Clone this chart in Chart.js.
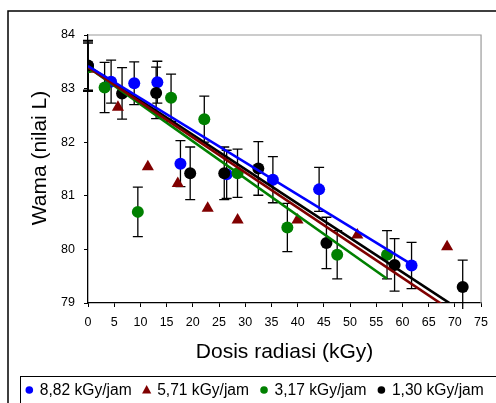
<!DOCTYPE html>
<html>
<head>
<meta charset="utf-8">
<script src="https://cdn.jsdelivr.net/npm/chart.js@4.4.1/dist/chart.umd.min.js"></script>
<style>
  html, body { margin: 0; padding: 0; background: #fff; }
</style>
</head>
<body>
<canvas id="c" width="496" height="403" style="display:block;width:496px;height:403px"></canvas>
<script>
const FONT = '"Liberation Sans", Arial, sans-serif';

const seriesLabels = ['8,82 kGy/jam', '5,71 kGy/jam', '3,17 kGy/jam', '1,30 kGy/jam'];
const seriesColors = ['#0000ff', '#800000', '#008000', '#000000'];
const seriesShapes = ['circle', 'triangle', 'circle', 'circle'];

// dosis (kGy) / nilai L / error
const doseBlue  = [0, 4.41, 8.82, 13.23, 17.64, 26.46, 35.28, 44.1, 61.74];
const lBlue     = [83.42, 83.13, 83.1, 83.12, 81.6, 81.4, 81.3, 81.12, 79.7];
const errBlue   = [0.45, 0.4, 0.4, 0.39, 0.43, 0.45, 0.43, 0.41, 0.43];

const doseRed   = [0, 5.71, 11.42, 17.13, 22.84, 28.55, 39.97, 51.39, 68.52];
const lRed      = [83.36, 82.65, 81.54, 81.23, 80.77, 80.55, 80.55, 80.27, 80.05];

const doseGreen = [0, 3.17, 9.51, 15.85, 22.19, 28.53, 38.04, 47.55, 57.06];
const lGreen    = [83.4, 83.02, 80.7, 82.83, 82.43, 81.42, 80.41, 79.9, 79.9];
const errGreen  = [0.45, 0.47, 0.46, 0.44, 0.43, 0.45, 0.45, 0.45, 0.45];

const doseBlack = [0, 6.5, 13, 19.5, 26, 32.5, 45.5, 58.5, 71.5];
const lBlack    = [83.43, 82.91, 82.92, 81.42, 81.42, 81.51, 80.12, 79.71, 79.3];
const errBlack  = [0.47, 0.48, 0.48, 0.49, 0.49, 0.5, 0.48, 0.49, 0.5];

// regresi linear tiap seri
const trendIntercept = [83.42, 83.40, 83.40, 83.42];
const trendSlope     = [-0.0599, -0.0655, -0.0692, -0.0641];

const doses  = [doseBlue, doseRed, doseGreen, doseBlack];
const values = [lBlue, lRed, lGreen, lBlack];
const errors = [errBlue, null, errGreen, errBlack];

const datasets = [];
seriesLabels.forEach((label, i) => {
    const xs = doses[i];
    const last = xs[xs.length - 1];
    datasets.push({
        label: 'trend ' + label,
        data: [0, last].map(x => ({x: x, y: trendIntercept[i] + trendSlope[i] * x})),
        showLine: true,
        borderColor: seriesColors[i],
        borderWidth: 2.6,
        pointRadius: 0,
        clip: 0,
        order: 0
    });
    datasets.push({
        label: label,
        data: xs.map((x, j) => ({x: x, y: values[i][j]})),
        errors: errors[i],
        pointStyle: seriesShapes[i],
        pointRadius: seriesShapes[i] === 'triangle' ? 7 : 6,
        backgroundColor: seriesColors[i],
        borderColor: seriesColors[i],
        borderWidth: 0,
        order: 4 - i // hitam paling atas
    });
});

const framePlugin = {
    id: 'frame',
    beforeDraw(chart) {
        const ctx = chart.ctx;
        ctx.save();
        ctx.fillStyle = '#fff';
        ctx.fillRect(0, 0, chart.width, chart.height);
        ctx.strokeStyle = '#000';
        ctx.lineWidth = 1.5;
        ctx.strokeRect(8, 11, chart.width + 20, chart.height + 20);
        ctx.restore();
    },
    beforeDatasetsDraw(chart) {
        const {ctx, chartArea: a} = chart;
        ctx.save();
        ctx.strokeStyle = '#9a9a9a';
        ctx.lineWidth = 1.2;
        ctx.beginPath();
        ctx.moveTo(a.left, a.top);
        ctx.lineTo(a.right, a.top);
        ctx.lineTo(a.right, a.bottom);
        ctx.stroke();
        ctx.restore();
    },
    afterDraw(chart) {
        // judul sumbu y (sedikit di atas tengah, seperti aslinya)
        const ctx = chart.ctx;
        ctx.save();
        ctx.translate(40, 158);
        ctx.rotate(-Math.PI / 2);
        ctx.font = '21px ' + FONT;
        ctx.fillStyle = '#000';
        ctx.textAlign = 'center';
        ctx.textBaseline = 'middle';
        ctx.fillText('Wama (nilai L)', 0, 0);
        ctx.restore();
    }
};

const errorBarPlugin = {
    id: 'errorBars',
    beforeDatasetsDraw(chart) {
        const {ctx, chartArea: a} = chart;
        const xs = chart.scales.x, ys = chart.scales.y;
        const cap = 5;
        ctx.save();
        ctx.strokeStyle = '#000';
        ctx.lineWidth = 1.3;
        chart.data.datasets.forEach(ds => {
            if (!ds.errors) return;
            ds.data.forEach((p, j) => {
                const e = ds.errors[j];
                const px = xs.getPixelForValue(p.x);
                const top = ys.getPixelForValue(p.y + e);
                let bot = ys.getPixelForValue(p.y - e);
                const clipped = bot > a.bottom + 6;
                if (clipped) bot = a.bottom + 6;
                ctx.beginPath();
                ctx.moveTo(px, top);
                ctx.lineTo(px, bot);
                ctx.moveTo(px - cap, top);
                ctx.lineTo(px + cap, top);
                if (!clipped) {
                    ctx.moveTo(px - cap, bot);
                    ctx.lineTo(px + cap, bot);
                }
                ctx.stroke();
            });
        });
        ctx.restore();
    }
};

const legendPlugin = {
    id: 'legendBox',
    afterDraw(chart) {
        const ctx = chart.ctx;
        ctx.save();
        ctx.strokeStyle = '#000';
        ctx.lineWidth = 1;
        ctx.strokeRect(20.5, 376.5, chart.width, 40);
        ctx.font = '15.6px ' + FONT;
        ctx.textBaseline = 'middle';
        let cursor = 29.3;
        const cy = 390;
        seriesLabels.forEach((label, i) => {
            ctx.fillStyle = seriesColors[i];
            ctx.beginPath();
            if (seriesShapes[i] === 'triangle') {
                ctx.moveTo(cursor, cy - 5);
                ctx.lineTo(cursor + 4.6, cy + 3.4);
                ctx.lineTo(cursor - 4.6, cy + 3.4);
                ctx.closePath();
            } else {
                ctx.arc(cursor, cy, 3.8, 0, Math.PI * 2);
            }
            ctx.fill();
            ctx.fillStyle = '#000';
            const tx = cursor + 10.5;
            ctx.fillText(label, tx, cy + 0.5);
            cursor = tx + ctx.measureText(label).width + 15;
        });
        ctx.restore();
    }
};

new Chart(document.getElementById('c'), {
    type: 'scatter',
    data: { datasets: datasets },
    options: {
        responsive: false,
        animation: false,
        events: [],
        layout: { padding: { left: 0, right: 8, top: 35, bottom: 38 } },
        plugins: { legend: { display: false }, tooltip: { enabled: false } },
        scales: {
            x: {
                type: 'linear', min: 0, max: 75,
                ticks: { stepSize: 5, color: '#000', font: { family: FONT, size: 12.5 }, padding: 8, maxRotation: 0, autoSkip: false },
                grid: { drawOnChartArea: false, drawTicks: true, tickLength: 4, color: '#000' },
                border: { color: '#000', width: 1.3 },
                title: { display: true, text: 'Dosis radiasi (kGy)', color: '#000', font: { family: FONT, size: 21 }, padding: { top: 0, bottom: 0.4 } },
                afterFit: s => { s.height = 62; }
            },
            y: {
                type: 'linear', min: 79, max: 84,
                ticks: { stepSize: 1, color: '#000', font: { family: FONT, size: 12.5 }, padding: 9 },
                grid: { drawOnChartArea: false, drawTicks: true, tickLength: 4, color: '#000' },
                border: { color: '#000', width: 1.3 },
                afterFit: s => { s.width = 88; }
            }
        }
    },
    plugins: [framePlugin, errorBarPlugin, legendPlugin]
});
</script>
</body>
</html>
